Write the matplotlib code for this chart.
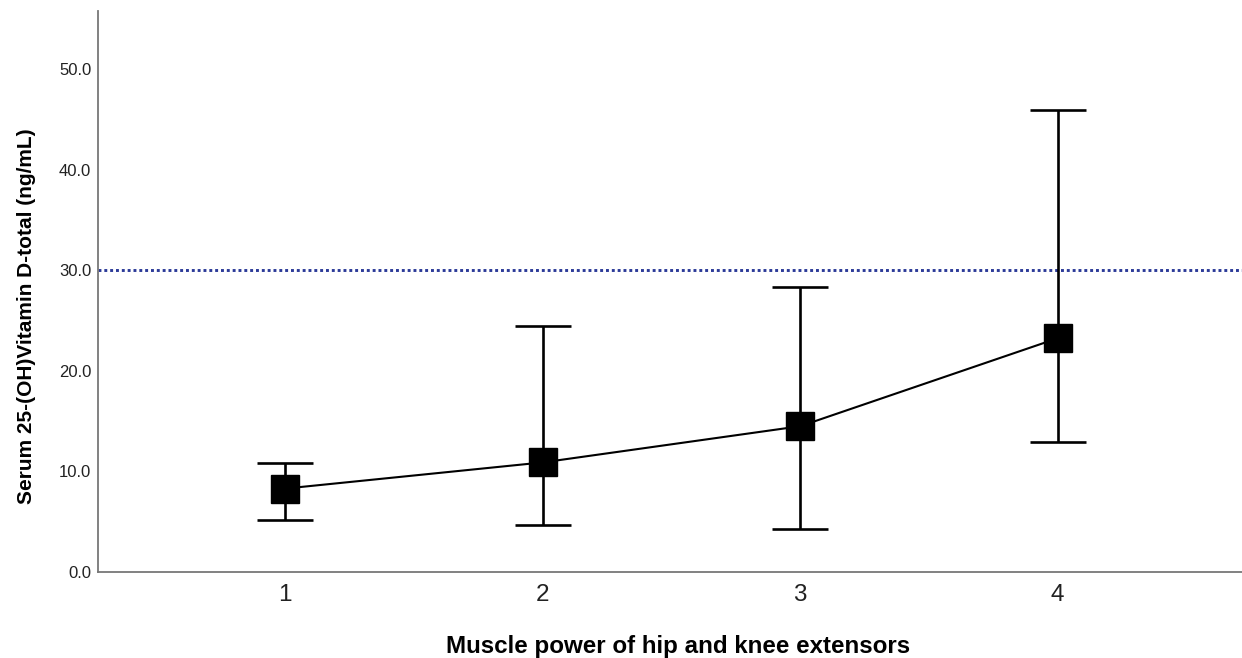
import matplotlib.pyplot as plt

# Datos (media e intervalos de error)
niveles = [1, 2, 3, 4]
media = [8.3, 10.9, 14.5, 23.25]
limite_sup = [10.8, 24.5, 28.3, 46.0]
limite_inf = [5.2, 4.7, 4.3, 12.9]
referencia = 30.0
yticks = [0, 10, 20, 30, 40, 50]

err_inf = [m - b for m, b in zip(media, limite_inf)]
err_sup = [t - m for m, t in zip(media, limite_sup)]

plt.rcParams['font.family'] = ['Liberation Sans', 'DejaVu Sans']

fig = plt.figure(figsize=(12.42, 6.58), dpi=100)
ax = fig.add_axes([0.079, 0.1307, 0.921, 0.8526])

# Línea de referencia punteada
ax.axhline(referencia, color='#2b3a98', lw=2.1, linestyle=(0, (1, 1.0)), zorder=1)

# Barras de error
ax.errorbar(niveles, media, yerr=[err_inf, err_sup], fmt='none',
            ecolor='black', elinewidth=1.9, capsize=20, capthick=1.9, zorder=2)

# Línea y marcadores cuadrados
ax.plot(niveles, media, color='black', lw=1.5, marker='s', markersize=19.5,
        markerfacecolor='black', markeredgecolor='black', zorder=3)

ax.set_xlim(0.273, 4.716)
ax.set_ylim(0, 55.8)
ax.set_xticks(niveles)
ax.set_xticklabels([str(n) for n in niveles], fontsize=17.5, color='#222222')
ax.set_yticks(yticks)
ax.set_yticklabels([f"{v:.1f}" for v in yticks], fontsize=12, color='#222222')
ax.tick_params(axis='x', length=0, pad=9)
ax.tick_params(axis='y', length=0, pad=5)

for s in ['top', 'right']:
    ax.spines[s].set_visible(False)
for s in ['left', 'bottom']:
    ax.spines[s].set_color('#777777')
    ax.spines[s].set_linewidth(1.3)

ax.set_ylabel("Serum 25-(OH)Vitamin D-total (ng/mL)", fontsize=15, fontweight='bold')
ax.yaxis.set_label_coords(-0.0545, 0.456)
ax.set_xlabel("Muscle power of hip and knee extensors", fontsize=17.4, fontweight='bold')
ax.xaxis.set_label_coords(0.507, -0.112)

fig.savefig("out.png", dpi=100)
